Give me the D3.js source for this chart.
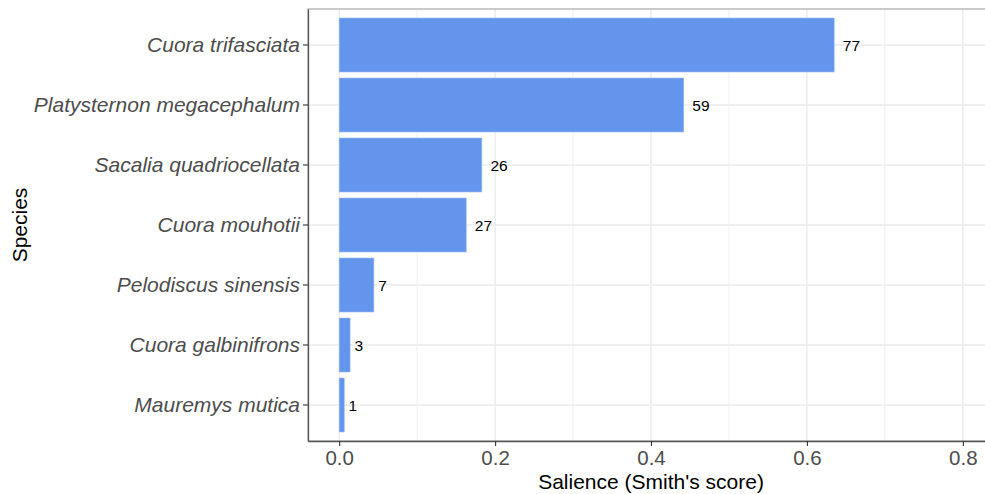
<!DOCTYPE html>
<html>
<head>
<meta charset="utf-8">
<script src="https://cdn.jsdelivr.net/npm/d3@7"></script>
<style>
  body { margin: 0; background: #fff; }
  text { font-family: "Liberation Sans", Arial, sans-serif; }
</style>
</head>
<body>
<div id="chart"></div>
<script>
// species, top to bottom
const species = [
  'Cuora trifasciata',
  'Platysternon megacephalum',
  'Sacalia quadriocellata',
  'Cuora mouhotii',
  'Pelodiscus sinensis',
  'Cuora galbinifrons',
  'Mauremys mutica'
];
const salience = [0.635, 0.442, 0.183, 0.163, 0.0445, 0.014, 0.0065];
const counts = [77, 59, 26, 27, 7, 3, 1];
const xTicks = [0, 0.2, 0.4, 0.6, 0.8];
const xMinor = [0.1, 0.3, 0.5, 0.7];

const W = 985, H = 494;
const mLeft = 308, mRight = 994, mTop = 9, mBottom = 441;

const svg = d3.select('#chart').append('svg')
  .attr('width', W).attr('height', H);

const x = d3.scaleLinear().domain([-0.04, 0.84]).range([mLeft, mRight]);
const y = d3.scaleBand().domain(species)
  .range([mTop, mBottom]).paddingInner(0.1).paddingOuter(0.15);

const data = species.map((s, i) => ({ s, v: salience[i], n: counts[i] }));

// grid
const grid = svg.append('g');
grid.selectAll('.minor').data(xMinor).join('line')
  .attr('x1', d => x(d)).attr('x2', d => x(d))
  .attr('y1', mTop).attr('y2', mBottom)
  .attr('stroke', '#ebebeb').attr('stroke-width', 0.8);
grid.selectAll('.major').data(xTicks).join('line')
  .attr('x1', d => x(d)).attr('x2', d => x(d))
  .attr('y1', mTop).attr('y2', mBottom)
  .attr('stroke', '#ebebeb').attr('stroke-width', 1.4);
grid.selectAll('.hy').data(species).join('line')
  .attr('x1', mLeft).attr('x2', mRight)
  .attr('y1', d => y(d) + y.bandwidth() / 2).attr('y2', d => y(d) + y.bandwidth() / 2)
  .attr('stroke', '#ebebeb').attr('stroke-width', 1.4);

// bars
svg.append('g').selectAll('rect').data(data).join('rect')
  .attr('x', x(0))
  .attr('y', d => y(d.s))
  .attr('width', d => x(d.v) - x(0))
  .attr('height', y.bandwidth())
  .attr('fill', '#6495ED')
  .attr('stroke', '#9bbcf3').attr('stroke-width', 0.6);

// value labels (hjust = -0.5)
svg.append('g').selectAll('text').data(data).join('text')
  .attr('y', d => y(d.s) + y.bandwidth() / 2)
  .attr('dy', '0.36em')
  .attr('font-size', 15.5)
  .attr('fill', '#000')
  .text(d => d.n)
  .each(function(d) {
    const w = this.getComputedTextLength();
    d3.select(this).attr('x', x(d.v) + w * 0.5);
  });

// panel border
svg.append('rect')
  .attr('x', mLeft).attr('y', mTop)
  .attr('width', mRight - mLeft).attr('height', mBottom - mTop)
  .attr('fill', 'none').attr('stroke', '#a0a0a0').attr('stroke-width', 1.1);

// axes
const xAxis = svg.append('g')
  .attr('transform', `translate(0,${mBottom})`)
  .call(d3.axisBottom(x).tickValues(xTicks).tickFormat(d3.format('.1f'))
    .tickSize(5).tickSizeOuter(0).tickPadding(4));
xAxis.select('.domain').attr('stroke', '#555').attr('stroke-width', 1.3);
xAxis.selectAll('.tick line').attr('stroke', '#333').attr('stroke-width', 1.1);
xAxis.selectAll('.tick text')
  .attr('font-size', 20.5).attr('fill', '#4d4d4d')
  .style('font-family', '"Liberation Sans", Arial, sans-serif');

const yAxis = svg.append('g')
  .attr('transform', `translate(${mLeft},0)`)
  .call(d3.axisLeft(y).tickSize(5).tickSizeOuter(0).tickPadding(3));
yAxis.select('.domain').attr('stroke', '#555').attr('stroke-width', 1.3);
yAxis.selectAll('.tick line').attr('stroke', '#333').attr('stroke-width', 1.1);
yAxis.selectAll('.tick text')
  .attr('font-size', 21).attr('fill', '#4d4d4d')
  .attr('font-style', 'italic')
  .style('font-family', '"Liberation Sans", Arial, sans-serif');

// titles
svg.append('text')
  .attr('x', (mLeft + mRight) / 2).attr('y', 489)
  .attr('text-anchor', 'middle')
  .attr('font-size', 21).attr('fill', '#000')
  .text("Salience (Smith's score)");

svg.append('text')
  .attr('transform', `translate(27,${(mTop + mBottom) / 2}) rotate(-90)`)
  .attr('text-anchor', 'middle')
  .attr('font-size', 21).attr('fill', '#000')
  .text('Species');
</script>
</body>
</html>
